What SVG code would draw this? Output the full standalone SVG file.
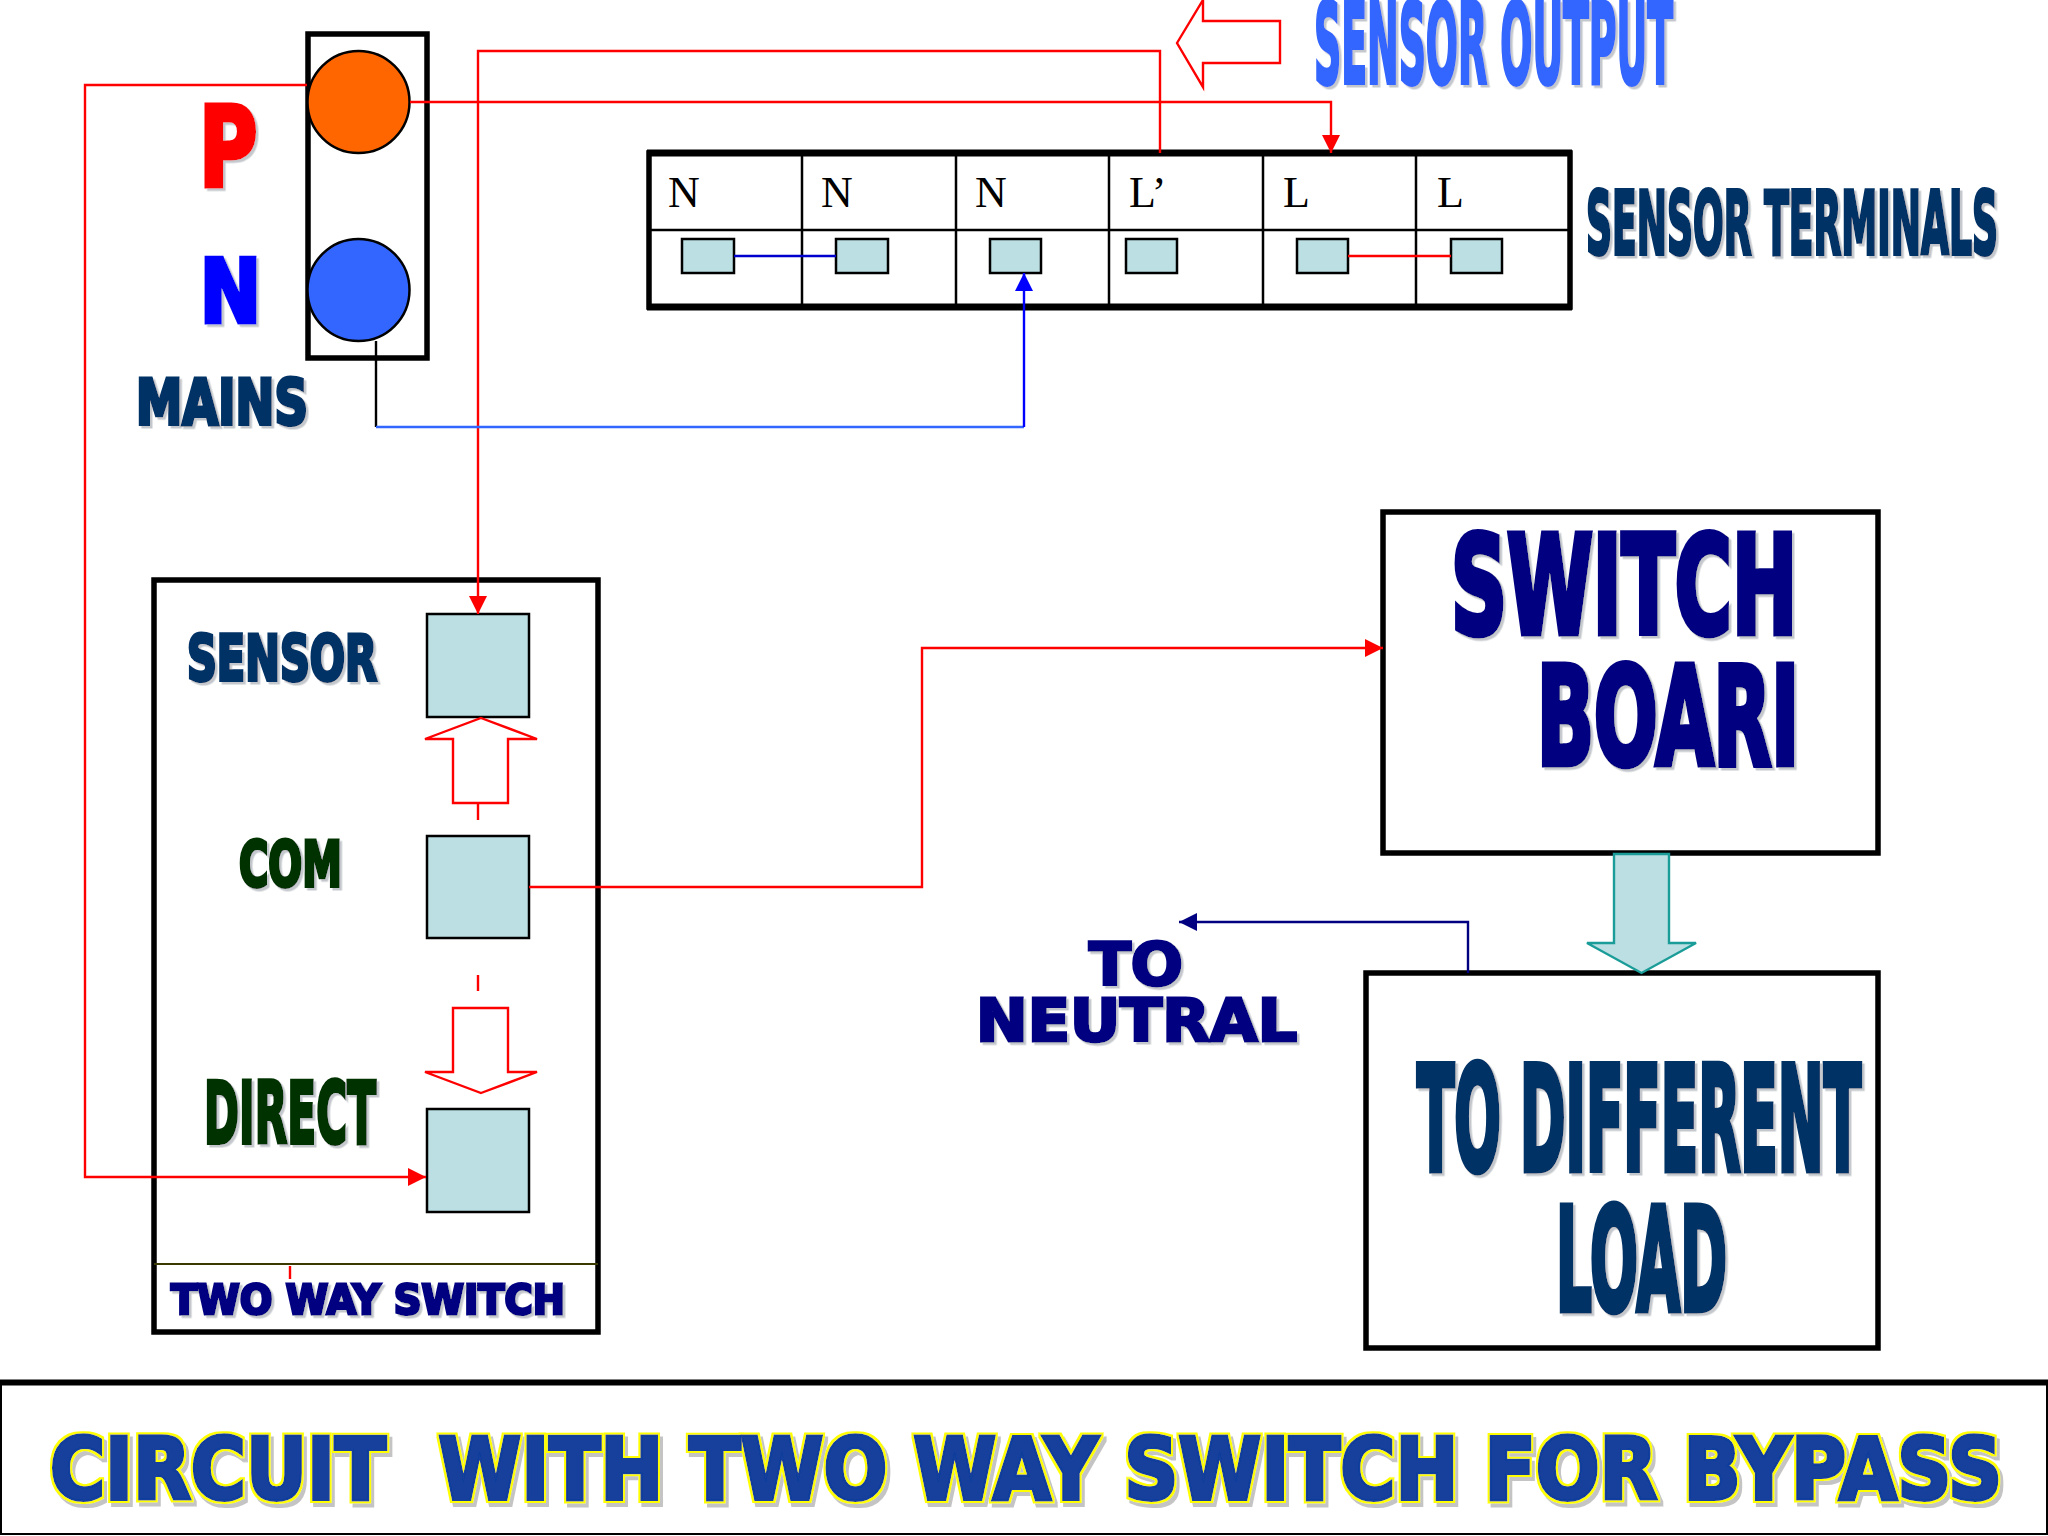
<svg xmlns="http://www.w3.org/2000/svg" width="2048" height="1536" viewBox="0 0 2048 1536">
<style>
.box{fill:#fff;stroke:#000;stroke-width:5.5}
.term{fill:#bbdfe3;stroke:#000;stroke-width:2.5}
.grid{stroke:#000;stroke-width:2.5;fill:none}
.w{fill:none;stroke-width:2.4;stroke-linejoin:miter}
.r{stroke:#f00}
.hollow{fill:#fff;stroke:#f00;stroke-width:2.4}
.art{font-family:"DejaVu Sans","Liberation Sans",sans-serif;font-weight:bold;filter:url(#sh);paint-order:stroke;stroke-linejoin:miter;white-space:pre}
.ti{filter:url(#ti)}
.cell{font-family:"Liberation Serif",serif;font-size:44px;fill:#000}
</style>
<defs>
<filter id="sh" x="-10%" y="-20%" width="120%" height="140%"><feDropShadow dx="2.5" dy="2.5" stdDeviation="0.6" flood-color="#c4c8cc"/></filter>
<filter id="ti" x="-2%" y="-20%" width="104%" height="140%">
<feMorphology in="SourceAlpha" operator="dilate" radius="2" result="d"/>
<feFlood flood-color="#ff0"/><feComposite in2="d" operator="in" result="y"/>
<feOffset in="d" dx="3" dy="4" result="o"/>
<feFlood flood-color="#c4c4c4"/><feComposite in2="o" operator="in" result="s"/>
<feMerge><feMergeNode in="s"/><feMergeNode in="y"/><feMergeNode in="SourceGraphic"/></feMerge>
</filter>
<marker id="aR" markerUnits="userSpaceOnUse" markerWidth="19" markerHeight="18" refX="18" refY="9" orient="auto"><path d="M0 0L18 9L0 18z" fill="#f00"/></marker>
<marker id="aB" markerUnits="userSpaceOnUse" markerWidth="19" markerHeight="18" refX="18" refY="9" orient="auto"><path d="M0 0L18 9L0 18z" fill="#00f"/></marker>
<marker id="aN" markerUnits="userSpaceOnUse" markerWidth="19" markerHeight="18" refX="18" refY="9" orient="auto"><path d="M0 0L18 9L0 18z" fill="#000080"/></marker>
</defs>
<rect width="2048" height="1536" fill="#fff"/>

<g id="mains">
<rect class="box" x="308" y="34" width="119" height="324"/>
<circle cx="358.5" cy="102" r="51" fill="#f60" stroke="#000" stroke-width="2.5"/>
<circle cx="358.5" cy="290" r="51" fill="#36f" stroke="#000" stroke-width="2.5"/>
<text class="art" x="199" y="185.500" font-size="110" textLength="58.500" lengthAdjust="spacingAndGlyphs" fill="#f00" stroke="#f00" stroke-width="5">P</text>
<text class="art" x="200" y="321.500" font-size="87" textLength="61" lengthAdjust="spacingAndGlyphs" fill="#00f" stroke="#00f" stroke-width="5">N</text>
<text class="art" x="136" y="424" font-size="63" textLength="172" lengthAdjust="spacingAndGlyphs" fill="#036" stroke="#036" stroke-width="4">MAINS</text>
</g>

<g id="sensor-output">
<polygon class="hollow" points="1177,43 1203,0 1203,21 1280,21 1280,63 1203,63 1203,87"/>
<text class="art" x="1314" y="83" font-size="112" textLength="359" lengthAdjust="spacingAndGlyphs" fill="#36f" stroke="#36f" stroke-width="4">SENSOR OUTPUT</text>
</g>

<g id="sensor-terminals">
<rect class="box" x="649" y="153" width="921" height="154"/>
<path d="M647 153H1572M647 307H1572" stroke="#000" stroke-width="7" fill="none"/>
<path class="grid" d="M649 230H1570M802 153V307M956 153V307M1109 153V307M1263 153V307M1416 153V307"/>
<text class="cell" x="668" y="207">N</text>
<text class="cell" x="821" y="207">N</text>
<text class="cell" x="975" y="207">N</text>
<text class="cell" x="1129" y="207">L’</text>
<text class="cell" x="1283" y="207">L</text>
<text class="cell" x="1437" y="207">L</text>
<rect class="term" x="682" y="239" width="52" height="34"/>
<rect class="term" x="836" y="239" width="52" height="34"/>
<rect class="term" x="990" y="239" width="51" height="34"/>
<rect class="term" x="1126" y="239" width="51" height="34"/>
<rect class="term" x="1297" y="239" width="51" height="34"/>
<rect class="term" x="1451" y="239" width="51" height="34"/>
<text class="art" x="1586" y="254" font-size="88" textLength="412" lengthAdjust="spacingAndGlyphs" fill="#036" stroke="#036" stroke-width="4">SENSOR TERMINALS</text>
</g>

<g id="two-way-switch">
<rect class="box" x="154" y="580" width="444" height="752"/>
<path d="M154 1264H598" stroke="#3a3a00" stroke-width="2" fill="none"/>
<rect class="term" x="427" y="614" width="102" height="103"/>
<rect class="term" x="427" y="836" width="102" height="102"/>
<rect class="term" x="427" y="1109" width="102" height="103"/>
<text class="art" x="187" y="680" font-size="63" textLength="190" lengthAdjust="spacingAndGlyphs" fill="#036" stroke="#036" stroke-width="4">SENSOR</text>
<text class="art" x="239" y="886" font-size="63" textLength="103" lengthAdjust="spacingAndGlyphs" fill="#030" stroke="#030" stroke-width="4">COM</text>
<text class="art" x="204" y="1143" font-size="85" textLength="172" lengthAdjust="spacingAndGlyphs" fill="#030" stroke="#030" stroke-width="4">DIRECT</text>
<text class="art" x="171" y="1314" font-size="41" textLength="394" lengthAdjust="spacingAndGlyphs" fill="#000080" stroke="#000080" stroke-width="3">TWO WAY SWITCH</text>
<polygon class="hollow" points="481,718 537,739 508,739 508,803 453,803 453,739 425,739"/>
<polygon class="hollow" points="481,1093 537,1072 508,1072 508,1008 453,1008 453,1072 425,1072"/>
</g>

<g id="switch-board">
<rect class="box" x="1383" y="512" width="495" height="341"/>
<text class="art" x="1451" y="632.500" font-size="136" textLength="346" lengthAdjust="spacingAndGlyphs" fill="#000080" stroke="#000080" stroke-width="7">SWITCH</text>
<text class="art" x="1537" y="764" font-size="135" textLength="262" lengthAdjust="spacingAndGlyphs" fill="#000080" stroke="#000080" stroke-width="7">BOARI</text>
</g>

<g id="different-load">
<rect class="box" x="1366" y="973" width="512" height="375"/>
<text class="art" x="1417" y="1169.500" font-size="144" textLength="444" lengthAdjust="spacingAndGlyphs" fill="#036" stroke="#036" stroke-width="7">TO DIFFERENT</text>
<text class="art" x="1556" y="1309.500" font-size="143" textLength="171" lengthAdjust="spacingAndGlyphs" fill="#036" stroke="#036" stroke-width="7">LOAD</text>
</g>

<g id="board-to-load">
<polygon points="1614,854 1669,854 1669,943 1696,943 1641.500,973 1587,943 1614,943" fill="#bbdfe3" stroke="#1a9c98" stroke-width="2.4"/>
</g>

<g id="to-neutral">
<text class="art" x="1089" y="984.500" font-size="59" textLength="94" lengthAdjust="spacingAndGlyphs" fill="#000080" stroke="#000080" stroke-width="3">TO</text>
<text class="art" x="976" y="1040.500" font-size="58" textLength="321" lengthAdjust="spacingAndGlyphs" fill="#000080" stroke="#000080" stroke-width="3">NEUTRAL</text>
</g>

<g id="title">
<rect x="1" y="1383" width="2046" height="151" fill="#fff" stroke="#000" stroke-width="2"/>
<path d="M0 1382.500H2048" stroke="#000" stroke-width="6"/>
<text class="art ti" x="50" y="1499" font-size="85" textLength="1952" lengthAdjust="spacingAndGlyphs" fill="#123f9c" stroke="#123f9c" stroke-width="4">CIRCUIT  WITH TWO WAY SWITCH FOR BYPASS</text>
</g>

<g id="connectors">
<path class="w r" d="M307 85H85V1177H426" marker-end="url(#aR)"/>
<path class="w r" d="M410 102H1331V153" marker-end="url(#aR)"/>
<path class="w r" d="M1160 153V51H478V614" marker-end="url(#aR)"/>
<path class="w r" d="M529 887H922V648H1383" marker-end="url(#aR)"/>
<path class="w r" d="M478 803V820M478 975V991M290 1266V1279"/>
<path class="w" stroke="#000" d="M376 341V427"/>
<path class="w" stroke="#36f" d="M376 427H1024"/>
<path class="w" stroke="#00f" d="M1024 427V273" marker-end="url(#aB)"/>
<path class="w" stroke="#00c" d="M734 256H836"/>
<path class="w r" d="M1348 256H1451"/>
<path class="w" stroke="#000080" d="M1468 973V922H1179" marker-end="url(#aN)"/>
</g>
</svg>
